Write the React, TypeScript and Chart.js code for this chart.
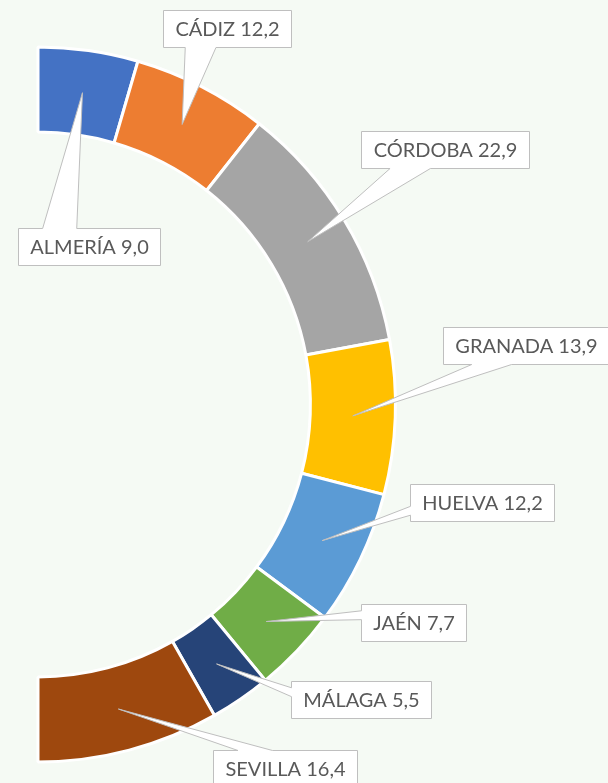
import React, { useEffect, useRef } from 'react';
import { Chart, registerables } from 'chart.js';

Chart.register(...registerables);

// ---- data ----
const provinces = ['ALMERÍA', 'CÁDIZ', 'CÓRDOBA', 'GRANADA', 'HUELVA', 'JAÉN', 'MÁLAGA', 'SEVILLA'];
const shares = [9.0, 12.2, 22.9, 13.9, 12.2, 7.7, 5.5, 16.4];
const sliceColors = ['#4472C4', '#ED7D31', '#A5A5A5', '#FFC000', '#5B9BD5', '#70AD47', '#264478', '#9E480E'];

// ---- callout layout (box top-left offset from the slice's anchor point) ----
const calloutOffsets: [number, number][] = [
  [-64, 135],
  [-19, -114],
  [53, -111],
  [90, -89],
  [88, -57],
  [95, -18],
  [74, 17],
  [95, 41],
];

const BG = '#f5faf4';
const FONT = '20px Lato';
const PAD = 12;
const BOX_H = 37;

const fmt = (v: number) => v.toFixed(1).replace('.', ',');

const calloutPlugin = {
  id: 'callouts',
  afterDraw(chart: any) {
    const ctx: CanvasRenderingContext2D = chart.ctx;
    const meta = chart.getDatasetMeta(0);
    ctx.save();
    ctx.font = FONT;
    meta.data.forEach((arc: any, i: number) => {
      const tip = arc.tooltipPosition(false);
      const text = `${chart.data.labels[i]} ${fmt(chart.data.datasets[0].data[i])}`;
      const tw = ctx.measureText(text).width;
      const w = Math.round(tw + 2 * PAD);
      const h = BOX_H;
      const off = calloutOffsets[i];
      const left = Math.round(tip.x + off[0]) + 0.5;
      const top = Math.round(tip.y + off[1]) + 0.5;
      const right = left + w;
      const bottom = top + h;
      const cx = left + w / 2;
      const cy = top + h / 2;
      const nx = (tip.x - cx) / (w / 2);
      const ny = (tip.y - cy) / (h / 2);
      let edge: string;
      if (Math.abs(ny) >= Math.abs(nx)) edge = ny > 0 ? 'bottom' : 'top';
      else edge = nx > 0 ? 'right' : 'left';

      const f1 = 0.17, f2 = 0.41;
      const pts: [number, number][] = [];
      pts.push([left, top]);
      if (edge === 'top') {
        const a = tip.x < cx ? left + f1 * w : right - f2 * w;
        const b = tip.x < cx ? left + f2 * w : right - f1 * w;
        pts.push([a, top], [tip.x, tip.y], [b, top]);
      }
      pts.push([right, top]);
      if (edge === 'right') {
        const a = tip.y < cy ? top + f1 * h : bottom - f2 * h;
        const b = tip.y < cy ? top + f2 * h : bottom - f1 * h;
        pts.push([right, a], [tip.x, tip.y], [right, b]);
      }
      pts.push([right, bottom]);
      if (edge === 'bottom') {
        const a = tip.x < cx ? left + f2 * w : right - f1 * w;
        const b = tip.x < cx ? left + f1 * w : right - f2 * w;
        pts.push([a, bottom], [tip.x, tip.y], [b, bottom]);
      }
      pts.push([left, bottom]);
      if (edge === 'left') {
        const a = tip.y < cy ? top + f2 * h : bottom - f1 * h;
        const b = tip.y < cy ? top + f1 * h : bottom - f2 * h;
        pts.push([left, a], [tip.x, tip.y], [left, b]);
      }

      ctx.beginPath();
      pts.forEach(([x, y], k) => (k === 0 ? ctx.moveTo(x, y) : ctx.lineTo(x, y)));
      ctx.closePath();
      ctx.fillStyle = '#ffffff';
      ctx.fill();
      ctx.lineWidth = 1;
      ctx.strokeStyle = '#bfbfbf';
      ctx.lineJoin = 'miter';
      ctx.stroke();

      ctx.fillStyle = '#595959';
      ctx.textAlign = 'center';
      ctx.textBaseline = 'middle';
      ctx.fillText(text, cx, cy + 1);
    });
    ctx.restore();
  },
};

const bgPlugin = {
  id: 'bg',
  beforeDraw(chart: any) {
    const ctx = chart.ctx;
    ctx.save();
    ctx.fillStyle = BG;
    ctx.fillRect(0, 0, chart.width, chart.height);
    ctx.restore();
  },
};

export default function App() {
  const ref = useRef<HTMLCanvasElement | null>(null);
  useEffect(() => {
    document.body.style.margin = '0';
    const chart = new Chart(ref.current as HTMLCanvasElement, {
      type: 'doughnut',
      data: {
        labels: provinces,
        datasets: [
          {
            data: shares,
            backgroundColor: sliceColors,
            borderColor: '#ffffff',
            borderWidth: 3,
            hoverOffset: 0,
          },
        ],
      },
      options: {
        responsive: false,
        animation: false,
        events: [],
        rotation: 0,
        circumference: 180,
        cutout: '76.2%',
        layout: { padding: { left: 36.25, right: 210.75, top: 45.5, bottom: 19.5 } },
        plugins: { legend: { display: false }, tooltip: { enabled: false } },
      },
      plugins: [bgPlugin, calloutPlugin],
    });
    return () => chart.destroy();
  }, []);
  return (
    <div style={{ width: 608, height: 783, background: BG }}>
      <canvas ref={ref} width={608} height={783} style={{ display: 'block' }} />
    </div>
  );
}
